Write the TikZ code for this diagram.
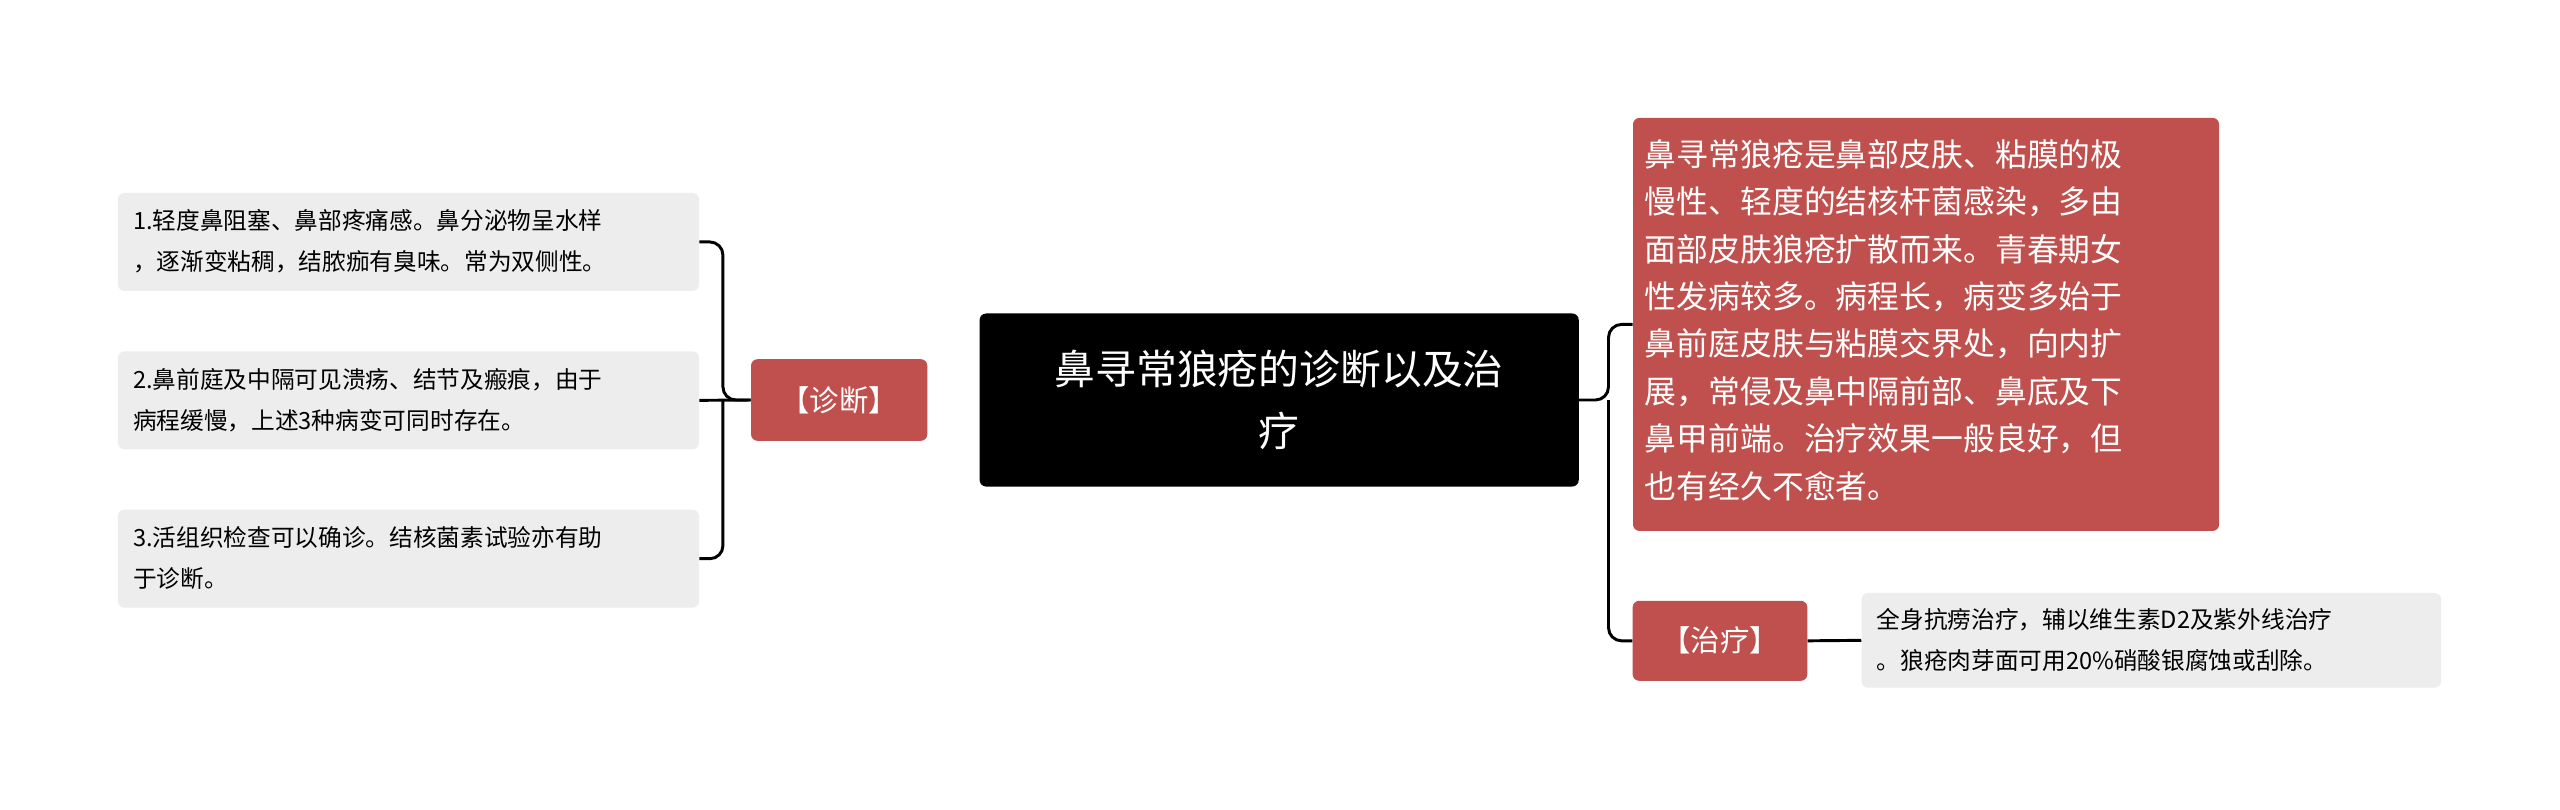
\documentclass[tikz,border=0pt]{standalone}
\usepackage{fontspec}
\setmainfont{Noto Sans CJK SC}
\begin{document}
\begin{tikzpicture}[x=1pt,y=-1pt,
  leaf/.style={fill=gray!14,rounded corners=4pt,align=left,anchor=north west,inner sep=0pt,font=\fontsize{14.5}{25}\selectfont},
  redbox/.style={fill=red!55!black!80!white,fill=rbox,rounded corners=4pt,text=white},
  conn/.style={line width=1.8pt,rounded corners=8pt}]
\definecolor{rbox}{HTML}{C0504D}
\useasboundingbox (0,0) rectangle (1568,496);
% central
\node[fill=black,rounded corners=4pt,minimum width=367pt,minimum height=106pt,text=white,align=center,font=\fontsize{25}{38}\selectfont] (c) at (783.5,245) {鼻寻常狼疮的诊断以及治\\疗};
% diag
\node[redbox,minimum width=108pt,minimum height=50pt,font=\fontsize{18}{22}\selectfont] (d) at (514,245) {【诊断】};
\node[leaf,minimum width=356pt,minimum height=60pt] (l1) at (72,118) {};
\node[anchor=west,align=left,font=\fontsize{14.5}{25}\selectfont] at (78,148) {1.轻度鼻阻塞、鼻部疼痛感。鼻分泌物呈水样\\，逐渐变粘稠，结脓痂有臭味。常为双侧性。};
\node[leaf,minimum width=356pt,minimum height=60pt] (l2) at (72,215) {};
\node[anchor=west,align=left,font=\fontsize{14.5}{25}\selectfont] at (78,245) {2.鼻前庭及中隔可见溃疡、结节及瘢痕，由于\\病程缓慢，上述3种病变可同时存在。};
\node[leaf,minimum width=356pt,minimum height=60pt] (l3) at (72,312) {};
\node[anchor=west,align=left,font=\fontsize{14.5}{25}\selectfont] at (78,342) {3.活组织检查可以确诊。结核菌素试验亦有助\\于诊断。};
\draw[conn] (d.west) -- ++(-17,0) coordinate (bd) |- (l1.east);
\draw[conn] (bd) |- (l3.east);
\draw[conn] (d.west) -- (l2.east);
% right
\node[redbox,minimum width=359pt,minimum height=253pt,anchor=north west] (r) at (1000,72) {};
\node[anchor=north west,align=left,text=white,font=\fontsize{19.5}{29}\selectfont] at (1004,82) {鼻寻常狼疮是鼻部皮肤、粘膜的极\\慢性、轻度的结核杆菌感染，多由\\面部皮肤狼疮扩散而来。青春期女\\性发病较多。病程长，病变多始于\\鼻前庭皮肤与粘膜交界处，向内扩\\展，常侵及鼻中隔前部、鼻底及下\\鼻甲前端。治疗效果一般良好，但\\也有经久不愈者。};
\node[redbox,minimum width=107pt,minimum height=49pt,font=\fontsize{18}{22}\selectfont] (t) at (1053.5,392.5) {【治疗】};
\node[leaf,minimum width=355pt,minimum height=58pt] (tl) at (1140,363) {};
\node[anchor=west,align=left,font=\fontsize{14.5}{25}\selectfont] at (1146,392) {全身抗痨治疗，辅以维生素D2及紫外线治疗\\。狼疮肉芽面可用20\%硝酸银腐蚀或刮除。};
\draw[conn] (c.east) -- ++(18,0) coordinate (bc) |- (r.west);
\draw[conn] (bc) |- (t.west);
\draw[conn] (t.east) -- (tl.west);
\end{tikzpicture}
\end{document}
